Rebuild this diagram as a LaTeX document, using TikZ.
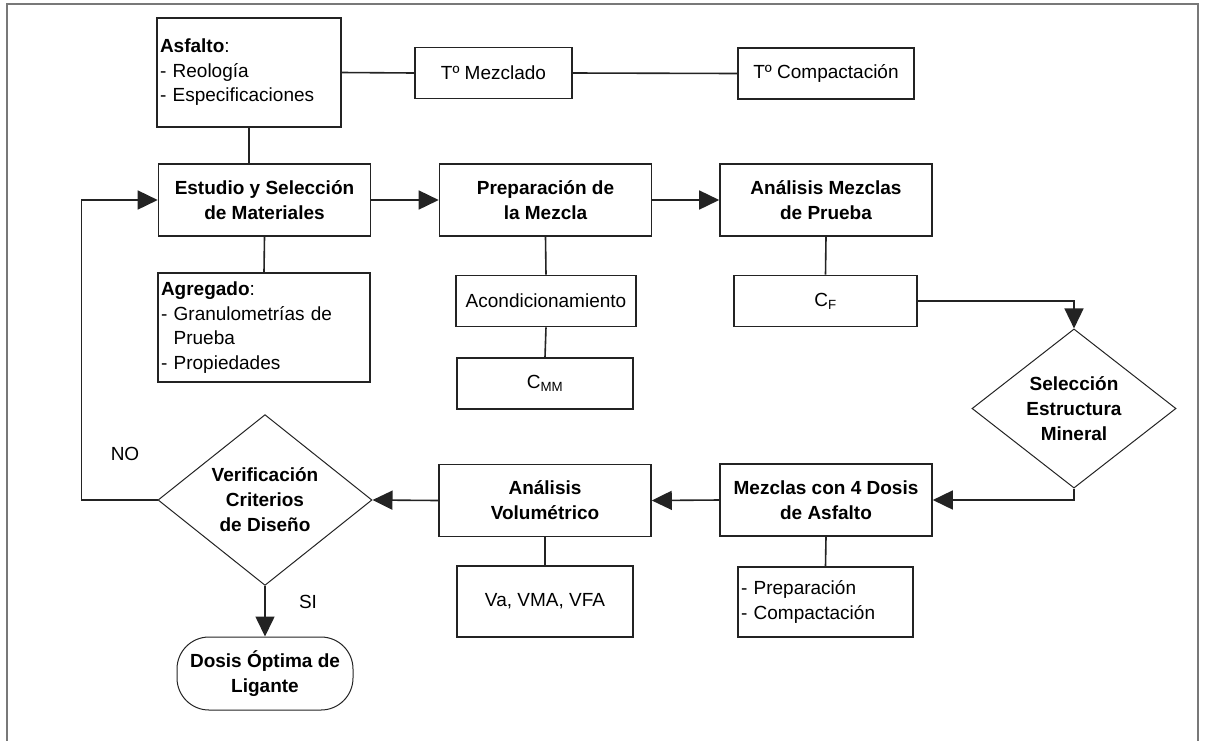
\documentclass[tikz,border=0pt]{standalone}
\usepackage{fontspec}
\setmainfont{Liberation Sans}
\usepackage{tikz}
\usetikzlibrary{shapes.geometric, arrows.meta}
\definecolor{framegray}{RGB}{120,120,120}
\definecolor{linegray}{RGB}{35,35,35}

\begin{document}
\begin{tikzpicture}[x=1pt, y=-1pt,
    proc/.style={rectangle, draw=linegray, line width=1.6pt, minimum width=212pt, minimum height=72pt, inner sep=2pt, align=center, font=\fontsize{19}{25}\selectfont\bfseries},
    item/.style={rectangle, draw=linegray, line width=1.6pt, minimum width=#1, minimum height=51pt, inner sep=2pt, align=center, font=\fontsize{19}{25}\selectfont},
    list/.style={rectangle, draw=linegray, line width=1.6pt, text width=#1, minimum height=109pt, inner sep=3pt, align=left, font=\fontsize{19}{24.5}\selectfont},
    decision/.style={diamond, draw=linegray, line width=1pt, inner sep=0pt, align=center, font=\fontsize{19}{25}\selectfont\bfseries},
    terminal/.style={rectangle, rounded corners=32pt, draw=linegray, line width=1pt, minimum width=176pt, minimum height=73pt, align=center, font=\fontsize{19}{25}\selectfont\bfseries},
    tag/.style={font=\fontsize{19}{25}\selectfont},
    arrow/.style={-{Triangle[length=20pt, width=19pt]}, line width=1.6pt, draw=linegray},
    link/.style={line width=1.6pt, draw=linegray},
    frame/.style={line width=2pt, draw=framegray}
]
\useasboundingbox (0,0) rectangle (1208,740);
\draw[frame] (7,741) |- (1198,4) -- (1198,741);

% Asphalt and temperatures
\node[list=178pt] (asfalto) at (249,72.5) {\textbf{Asfalto}:\\- Reología\\- Especificaciones};
\node[item=157pt] (tmezcla) at (493.5,73) {Tº Mezclado};
\node[item=176pt] (tcompac) at (826,73.5) {Tº Compactación};

% Main row
\node[proc] (estudio) at (264.5,200) {Estudio y Selección\\de Materiales};
\node[proc] (prepara) at (545.5,200) {Preparación de\\la Mezcla};
\node[proc] (analmez) at (826,200) {Análisis Mezclas\\de Prueba};

% Details below main row
\node[list=206pt] (agregado) at (264,327.5) {\textbf{Agregado}:\\- Granulometrías de\\\phantom{- }Prueba\\- Propiedades};
\node[item=180pt] (acond) at (546,301) {Acondicionamiento};
\node[item=176pt] (cmm) at (545,383.5) {C\textsubscript{MM}};
\node[item=183pt] (cf) at (825.5,301) {C\textsubscript{F}};
\node[decision, minimum width=204pt, minimum height=127pt] (selec) at (1074,408.5) {Selección\\Estructura\\Mineral};

% Lower row
\node[proc] (mezc4) at (826,500) {Mezclas con 4 Dosis\\de Asfalto};
\node[list=169pt, minimum height=70pt] (prepcomp) at (825.5,602) {- Preparación\\- Compactación};
\node[proc] (analvol) at (545,500.5) {Análisis\\Volumétrico};
\node[item=176pt, minimum height=71pt] (vavma) at (545,601.5) {Va, VMA, VFA};
\node[decision, minimum width=214pt, minimum height=144pt] (verif) at (265,500) {Verificación\\Criterios\\de Diseño};
\node[terminal] (dosis) at (265,673.5) {Dosis Óptima de\\Ligante};

% Plain links
\draw[link] (asfalto.east) -- (tmezcla.west);
\draw[link] (tmezcla.east) -- (tcompac.west);
\draw[link] (asfalto.south) -- (asfalto.south |- estudio.north);
\draw[link] (estudio.south) -- (agregado.north);
\draw[link] (prepara.south) -- (acond.north);
\draw[link] (acond.south) -- (cmm.north);
\draw[link] (analmez.south) -- (cf.north);
\draw[link] (mezc4.south) -- (prepcomp.north);
\draw[link] (analvol.south) -- (vavma.north);

% Arrows
\draw[arrow] (estudio.east) -- (prepara.west);
\draw[arrow] (prepara.east) -- (analmez.west);
\draw[arrow] (cf.east) -| (selec.north);
\draw[arrow] (selec.south) |- (mezc4.east);
\draw[arrow] (mezc4.west) -- (analvol.east);
\draw[arrow] (analvol.west) -- (verif.east);
\draw[arrow] (verif.south) -- (dosis.north);
\draw[arrow] (verif.west) -- ++(-76,0) |- (estudio.west);

% Decision labels
\node[tag] (no) at (125,454) {NO};
\node[tag] (si) at (308,602) {SI};

\end{tikzpicture}
\end{document}
